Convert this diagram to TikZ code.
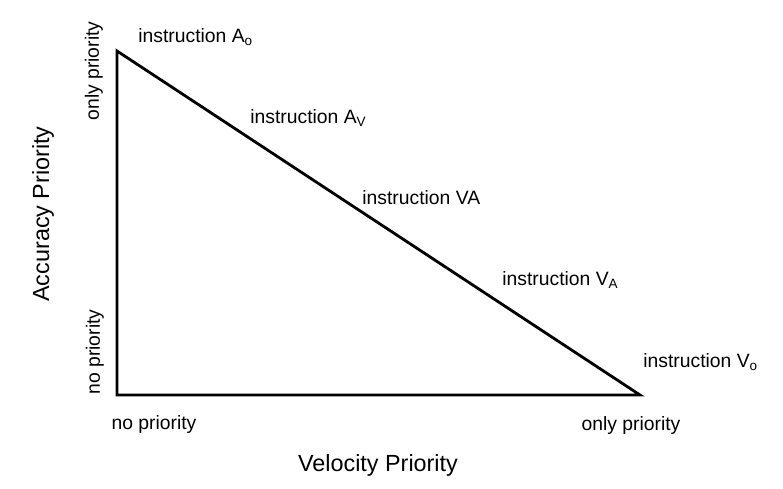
\documentclass[tikz,border=0pt]{standalone}
\usepackage{fontspec}
\setmainfont{Liberation Sans}
\usepackage{tikz}
\usetikzlibrary{positioning}

\begin{document}
\begin{tikzpicture}[
    x=0.02cm, y=-0.02cm,
    label/.style={inner sep=0pt, font=\fontsize{11}{13}\selectfont},
    axis/.style={inner sep=0pt, font=\fontsize{13.3}{16}\selectfont},
    edge/.style={line width=1.6pt, line join=miter}
]
\useasboundingbox (0,0) rectangle (783,489);

% corners of the triangle
\coordinate (top) at (117,51);
\coordinate (origin) at (117,395);
\coordinate (right) at (640,395);

\draw[edge] (top) -- (origin) -- (right) -- cycle;

% instructions along the hypotenuse
\node[label, anchor=west] (ao) at (138,37) {instruction A\textsubscript{o}};
\node[label, anchor=west] (av) at (250,118) {instruction A\textsubscript{V}};
\node[label, anchor=west] (va) at (362,198) {instruction VA};
\node[label, anchor=west] (vav) at (502,280) {instruction V\textsubscript{A}};
\node[label, anchor=west] (vo) at (643,362) {instruction V\textsubscript{o}};

% ticks on the axes
\node[label, rotate=90] (yonly) at (94,71) {only priority};
\node[label, rotate=90] (yno) at (95,352) {no priority};
\node[label] (xno) at (154,424) {no priority};
\node[label] (xonly) at (631,425) {only priority};

% axis titles
\node[axis] (xtitle) at (378,465) {Velocity Priority};
\node[axis, rotate=90] (ytitle) at (43,214) {Accuracy Priority};
\end{tikzpicture}
\end{document}
